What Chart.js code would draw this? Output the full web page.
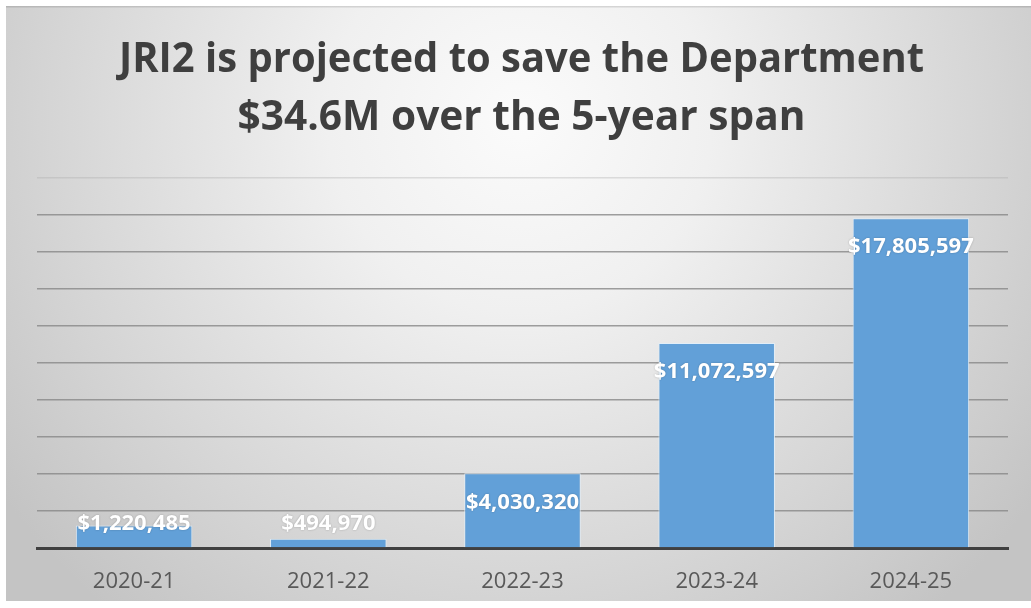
<!DOCTYPE html>
<html>
<head>
<meta charset="utf-8">
<script src="https://cdn.jsdelivr.net/npm/chart.js@4.4.1/dist/chart.umd.min.js"></script>
<style>
  html, body { margin: 0; padding: 0; background: #ffffff; }
  #wrap { width: 1031px; height: 608px; position: relative; }
</style>
</head>
<body>
<div id="wrap"><canvas id="c" width="1031" height="608"></canvas></div>
<script>
// Chart content
const titleLines = ['JRI2 is projected to save the Department', '$34.6M over the 5-year span'];
const fiscalYears = ['2020-21', '2021-22', '2022-23', '2023-24', '2024-25'];
const projectedSavings = [1220485, 494970, 4030320, 11072597, 17805597];
const axisMax = 20000000;
const axisStep = 2000000;

const money = v => '$' + v.toLocaleString('en-US');

// Framed panel with a soft radial shading behind everything
const panelBackground = {
  id: 'panelBackground',
  beforeDraw(chart) {
    const ctx = chart.ctx;
    const W = chart.width, H = chart.height;
    ctx.save();
    ctx.fillStyle = '#ffffff';
    ctx.fillRect(0, 0, W, H);
    const x0 = 6, y0 = 6, x1 = W, y1 = 601;
    const g = ctx.createRadialGradient(520, 120, 0, 520, 120, 640);
    g.addColorStop(0, '#fbfbfb');
    g.addColorStop(0.3, '#f0f0f0');
    g.addColorStop(0.75, '#d4d4d4');
    g.addColorStop(1, '#c4c4c4');
    ctx.fillStyle = g;
    ctx.fillRect(x0, y0, x1 - x0, y1 - y0);
    ctx.fillStyle = 'rgba(0,0,0,0.12)';
    ctx.fillRect(x0, y0, x1 - x0, 1.5);
    ctx.restore();
  }
};

// Two-line heading, condensed to the heading width
const heading = {
  id: 'heading',
  afterDraw(chart) {
    const ctx = chart.ctx;
    const cx = 521.5;
    const baselines = [72, 130];
    const widths = [805, 568];
    ctx.save();
    ctx.font = '700 42px "Open Sans"';
    ctx.fillStyle = '#3f3f3f';
    ctx.textAlign = 'center';
    ctx.textBaseline = 'alphabetic';
    titleLines.forEach((line, i) => {
      const w = ctx.measureText(line).width;
      const sx = Math.min(1, widths[i] / w);
      ctx.save();
      ctx.translate(cx, baselines[i]);
      ctx.scale(sx, 1);
      ctx.fillText(line, 0, 0);
      ctx.restore();
    });
    ctx.restore();
  }
};

// Value labels near the top of each bar, kept above the axis for short bars
const valueLabels = {
  id: 'valueLabels',
  afterDatasetsDraw(chart) {
    const ctx = chart.ctx;
    const meta = chart.getDatasetMeta(0);
    const base = chart.scales.y.getPixelForValue(0);
    ctx.save();
    ctx.font = '700 22px "Open Sans"';
    ctx.fillStyle = '#ffffff';
    ctx.textAlign = 'center';
    ctx.textBaseline = 'middle';
    ctx.shadowColor = 'rgba(0,0,0,0.25)';
    ctx.shadowBlur = 2;
    meta.data.forEach((bar, i) => {
      const y = Math.min(bar.y + 29, base - 24.5);
      ctx.fillText(money(projectedSavings[i]), bar.x, y);
    });
    ctx.restore();
  }
};

new Chart(document.getElementById('c'), {
  type: 'bar',
  data: {
    labels: fiscalYears,
    datasets: [{
      data: projectedSavings,
      backgroundColor: '#62a0d8',
      borderColor: 'rgba(225,238,250,0.9)',
      borderWidth: 1,
      categoryPercentage: 1,
      barPercentage: 0.6
    }]
  },
  options: {
    responsive: false,
    animation: false,
    devicePixelRatio: 1,
    layout: { padding: { left: 37, right: 23, top: 177.5, bottom: 0 } },
    plugins: {
      legend: { display: false },
      title: { display: false },
      tooltip: { enabled: false }
    },
    scales: {
      x: {
        grid: { display: false, drawTicks: false },
        border: { display: true, color: '#404040', width: 3 },
        ticks: {
          color: '#595959',
          font: { family: 'Open Sans', size: 22 },
          padding: 21
        },
        afterFit(scale) { scale.height = 60; }
      },
      y: {
        min: 0,
        max: axisMax,
        ticks: { display: false, stepSize: axisStep },
        grid: {
          drawTicks: false,
          lineWidth: 1.5,
          color: ctx => ctx.tick && ctx.tick.value === axisMax ? 'rgba(170,170,170,0.35)' : 'rgba(135,135,135,0.8)'
        },
        border: { display: false },
        afterFit(scale) { scale.width = 0; }
      }
    }
  },
  plugins: [panelBackground, heading, valueLabels]
});
</script>
</body>
</html>
